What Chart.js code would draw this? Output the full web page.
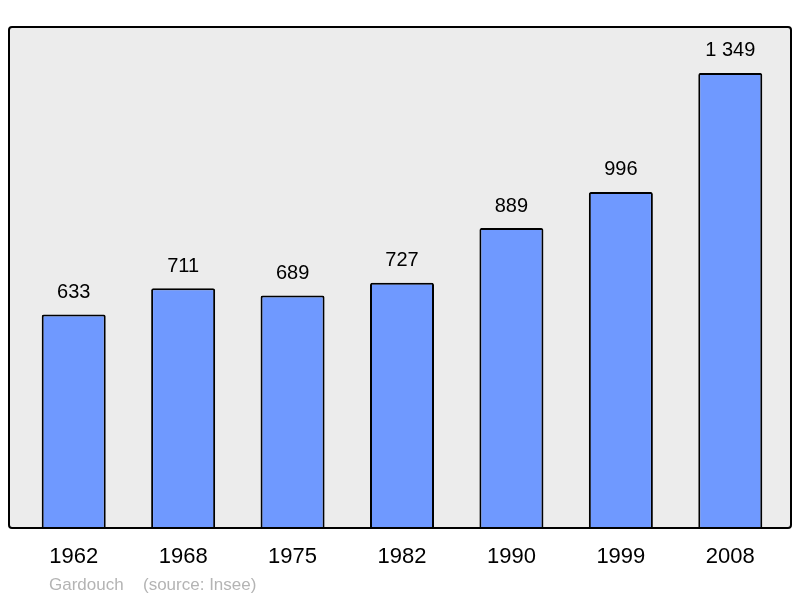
<!DOCTYPE html>
<html>
<head>
<meta charset="utf-8">
<script src="https://cdn.jsdelivr.net/npm/chart.js@4"></script>
<style>
  body { margin: 0; background: #fff; }
  canvas { display: block; }
</style>
</head>
<body>
<canvas id="chart" width="800" height="598"></canvas>
<script>
const years = ['1962', '1968', '1975', '1982', '1990', '1999', '2008'];
const population = [633, 711, 689, 727, 889, 996, 1349];
const valueLabels = ['633', '711', '689', '727', '889', '996', '1 349'];
const town = 'Gardouch';
const source = '(source: Insee)';

const frame = {
    id: 'frame',
    beforeDraw(chart) {
        const ctx = chart.ctx;
        ctx.save();
        ctx.fillStyle = '#ececec';
        ctx.beginPath();
        ctx.roundRect(9, 27, 782, 501, 3);
        ctx.fill();
        ctx.restore();
    },
    afterDatasetsDraw(chart) {
        const ctx = chart.ctx;
        const meta = chart.getDatasetMeta(0);
        const xScale = chart.scales.x;
        ctx.save();
        // border
        ctx.strokeStyle = '#000';
        ctx.lineWidth = 2;
        ctx.beginPath();
        ctx.roundRect(9, 27, 782, 501, 3);
        ctx.stroke();

        // value labels
        ctx.fillStyle = '#000';
        ctx.textAlign = 'center';
        ctx.textBaseline = 'middle';
        ctx.font = '20px "Liberation Sans", Arial, sans-serif';
        meta.data.forEach((bar, i) => {
            ctx.fillText(valueLabels[i], bar.x, bar.y - 22);
        });

        // year labels
        ctx.font = '22px "Liberation Sans", Arial, sans-serif';
        years.forEach((y, i) => {
            ctx.fillText(y, xScale.getPixelForValue(i), 557);
        });

        // source
        ctx.fillStyle = '#b4b4b4';
        ctx.textAlign = 'left';
        ctx.font = '17px "Liberation Sans", Arial, sans-serif';
        ctx.fillText(town, 49, 585);
        ctx.fillText(source, 143, 585);
        ctx.restore();
    }
};

new Chart(document.getElementById('chart').getContext('2d'), {
    type: 'bar',
    data: {
        labels: years,
        datasets: [{
            data: population,
            backgroundColor: '#6f99ff',
            borderColor: '#000',
            borderWidth: 2,
            borderRadius: 2,
            borderSkipped: 'bottom',
            barPercentage: 0.585,
            categoryPercentage: 1
        }]
    },
    options: {
        responsive: false,
        animation: false,
        layout: { padding: { left: 19, right: 15, top: 27, bottom: 70 } },
        plugins: { legend: { display: false }, tooltip: { enabled: false } },
        scales: {
            x: { display: false },
            y: { display: false, min: 0, max: 1485 }
        }
    },
    plugins: [frame]
});
</script>
</body>
</html>
